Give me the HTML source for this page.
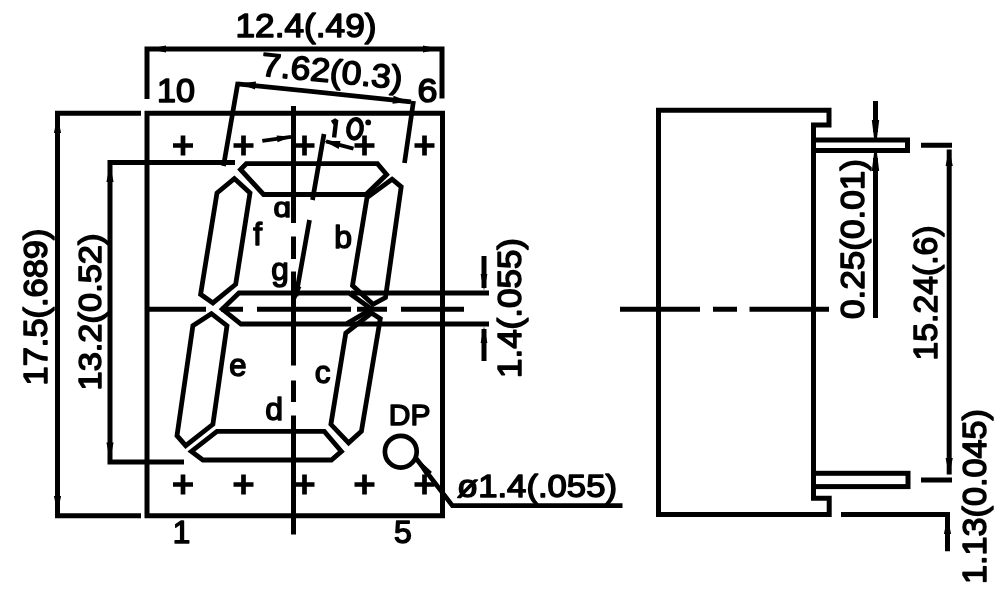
<!DOCTYPE html>
<html>
<head>
<meta charset="utf-8">
<title>7-segment display package dimensions</title>
<style>
  html, body { margin: 0; padding: 0; background: #ffffff; }
  body { width: 1000px; height: 596px; overflow: hidden; }
  svg { display: block; }
  text { font-family: "Liberation Sans", sans-serif; fill: #000; stroke: #000; stroke-width: 1.5px; stroke-linejoin: round; }
  .l5 { stroke: #000; stroke-width: 5; fill: none; stroke-linecap: butt; stroke-linejoin: miter; }
  .l4 { stroke: #000; stroke-width: 4.7; fill: none; stroke-linecap: butt; stroke-linejoin: miter; }
  .seg { stroke: #000; stroke-width: 4.8; fill: none; stroke-linejoin: miter; }
  .ar { fill: #000; stroke: none; }
</style>
</head>
<body>
<svg width="1000" height="596" viewBox="0 0 1000 596">
  <defs>
    <filter id="soft" x="0" y="0" width="1000" height="596" filterUnits="userSpaceOnUse">
      <feGaussianBlur stdDeviation="0.55"/>
    </filter>
  </defs>
  <rect x="0" y="0" width="1000" height="596" fill="#ffffff"/>
  <g filter="url(#soft)">

  <!-- ================= FRONT VIEW ================= -->
  <!-- package outline -->
  <rect class="l5" x="147" y="113.25" width="295.5" height="402.5"/>

  <!-- 12.4 width dimension -->
  <path class="l5" d="M147 46.5V99 M442 46.5V98.5 M147 49H442"/>
  <path class="ar" d="M149 49L166 45.6V52.4Z M440 49L423 45.6V52.4Z"/>

  <!-- 17.5 height dimension -->
  <path class="l5" d="M55 113.25H141 M55 515.75H141 M57.5 113V516"/>
  <path class="ar" d="M57.5 116L53.9 133H61.1Z M57.5 513L53.9 496H61.1Z"/>

  <!-- 13.2 digit height dimension -->
  <path class="l5" d="M107.5 162.5H235 M107.5 462H184 M110 162.5V462"/>
  <path class="ar" d="M110 165L106.4 182H113.6Z M110 459.5L106.4 442.5H113.6Z"/>

  <!-- 7.62 slanted dimension -->
  <path class="l4" d="M238 82L223.5 166 M413.5 101L404.5 163"/>
  <path class="l4" d="M237.2 83.8L411 101.8"/>
  <path class="ar" d="M239 83.4L256 81.5L255 89.5Z M409.5 101.8L392.5 103.8L393.5 95.8Z"/>

  <!-- pin crosses : top row / bottom row -->
  <g class="l4">
    <path d="M173 145.5H193 M183 135.5V155.5"/>
    <path d="M233.5 145.5H253.5 M243.5 135.5V155.5"/>
    <path d="M294.5 145.5H314.5 M304.5 135.5V155.5"/>
    <path d="M354.5 145.5H374.5 M364.5 135.5V155.5"/>
    <path d="M414.5 145.5H434.5 M424.5 135.5V155.5"/>
    <path d="M173 484.5H193 M183 474.5V494.5"/>
    <path d="M233.5 484.5H253.5 M243.5 474.5V494.5"/>
    <path d="M294.5 484.5H314.5 M304.5 474.5V494.5"/>
    <path d="M354.5 484.5H374.5 M364.5 474.5V494.5"/>
    <path d="M414.5 484.5H434.5 M424.5 474.5V494.5"/>
  </g>

  <!-- seven segments -->
  <g class="seg">
    <!-- a -->
    <path d="M246.3 163.7H377.4L386.6 174.5L366 194.5H263.6L240.5 169.5Z"/>
    <!-- f -->
    <path d="M234.3 178.6L250 192.9L235.7 284.3L212.9 302.9L200.6 294.3L217 192.9Z"/>
    <!-- b -->
    <path d="M392 179.2L401.2 186.8L385.5 297.5L373 304.3L352.5 285.5L367 197.5Z"/>
    <!-- g -->
    <path d="M239 293H349L371.5 309L346 324H241L222.3 309Z"/>
    <!-- e -->
    <path d="M211.4 313.7L227 325.7L212.9 424.3L185.7 445.7L177 435.7L192.9 325.7Z"/>
    <!-- c -->
    <path d="M371.5 313L380.3 318.7L361.4 431.4L348.6 442.9L330.9 424.3L345.8 333Z"/>
    <!-- d -->
    <path d="M217 431.4H324.3L341.4 451.4L331.4 460H202.9L191.4 451.4Z"/>
  </g>

  <!-- centre lines -->
  <path class="l5" d="M293.5 106V223 M293.5 236.5V259 M293.5 271.5V365.5 M293.5 380.5V402 M293.5 415.5V534.5"/>
  <path class="l5" d="M147 309.3H206 M221 309.3H243 M257 309.3H351 M357 309.3H387 M401 309.3H464"/>

  <!-- 10 degree slanted reference line -->
  <path class="l4" d="M324 134L312.5 200 M309.5 220L296 296"/>
  <path class="ar" d="M294.5 303L296.3 286L301.3 287Z"/>
  <path class="l4" style="stroke-width:3.8" d="M262.3 140.8L291 136.9 M326 141.4L353.5 148.6"/>
  <path class="ar" d="M292 136.8L276.6 135.4L277.5 142.3Z M324 140.9L340.5 141L338.7 149Z"/>

  <!-- 1.4 segment width dimension -->
  <path class="l5" d="M351 293H489 M347 324H489"/>
  <path class="l5" d="M484 256V288 M484 329V361"/>
  <path class="ar" d="M484 290.5L480.6 274H487.4Z M484 326.5L480.6 343H487.4Z"/>

  <!-- decimal point and leader -->
  <circle class="l4" cx="400.8" cy="451.7" r="15.9"/>
  <path class="l4" d="M415 457L452.4 505.6H622.5"/>
  <path class="ar" d="M413.5 455L432 472L426 477Z"/>

  <!-- ================= SIDE VIEW ================= -->
  <path class="l5" d="M658.5 110.3H829V125H813.5V498.3H829.2V514.5H658.5Z"/>
  <rect class="l5" x="813.5" y="140" width="94" height="10.5"/>
  <rect class="l5" x="813.5" y="473.3" width="94.5" height="13.3"/>
  <path class="l5" d="M620 309.3H700 M713 309.3H737 M749.5 309.3H829"/>

  <!-- 0.25 pin thickness -->
  <path class="l5" d="M875.5 101V132 M875.5 158V318"/>
  <path class="ar" d="M874 138H877L879.2 120H871.8Z M874 153H877L879.2 171H871.8Z"/>

  <!-- 15.24 pin row spacing -->
  <path class="l5" d="M921 145.2H952 M921 480H952 M949.2 149.5V474.5"/>
  <path class="ar" d="M949.2 149L945.6 166H952.8Z M949.2 475L945.6 458H952.8Z"/>

  <!-- 1.13 -->
  <path class="l5" d="M841 514.5H950 M947.5 512V551.3"/>
  <path class="ar" d="M947.5 517L943.9 534H951.1Z"/>

  <!-- ================= TEXT ================= -->
  <text x="235.5" y="36.5" font-size="33" textLength="141" lengthAdjust="spacingAndGlyphs">12.4(.49)</text>
  <text x="0" y="0" font-size="33" textLength="142" lengthAdjust="spacingAndGlyphs" transform="translate(260.3 75.6) rotate(5.5)">7.62(0.3)</text>
  <text x="157" y="102.2" font-size="33" textLength="38" lengthAdjust="spacingAndGlyphs">10</text>
  <text x="417.5" y="102" font-size="33" textLength="20" lengthAdjust="spacingAndGlyphs">6</text>
  <text x="172.8" y="542.8" font-size="31.5">1</text>
  <text x="394" y="542.8" font-size="32">5</text>
  <!-- "10°" hand-drawn (slanted CAD-style glyphs) -->
  <path d="M332 122.6L336.2 120L334.1 137.4" fill="none" stroke="#000" stroke-width="4.4" stroke-linejoin="bevel"/>
  <ellipse cx="355" cy="128.8" rx="6.7" ry="9.7" transform="rotate(9 355 128.8)" fill="none" stroke="#000" stroke-width="4.4"/>
  <circle cx="368.2" cy="122.4" r="2.9" fill="#000"/>

  <text x="273.5" y="217.2" font-size="28.5" textLength="17.5" lengthAdjust="spacingAndGlyphs">&#593;</text>
  <text x="253.3" y="244.5" font-size="31.5">f</text>
  <text x="334.3" y="248" font-size="32">b</text>
  <text x="271.3" y="280" font-size="31.5">g</text>
  <text x="229.3" y="376.3" font-size="31">e</text>
  <text x="314.8" y="382.5" font-size="31.5">c</text>
  <text x="265.3" y="420.3" font-size="32">d</text>
  <text x="388.8" y="425.2" font-size="30">DP</text>

  <text x="457" y="496.7" font-size="32" textLength="160" lengthAdjust="spacingAndGlyphs">&#248;1.4(.055)</text>

  <text font-size="33" textLength="157" lengthAdjust="spacingAndGlyphs" transform="translate(46.8 385.5) rotate(-90)">17.5(.689)</text>
  <text font-size="31.5" textLength="157" lengthAdjust="spacingAndGlyphs" transform="translate(101 390.5) rotate(-90)">13.2(0.52)</text>
  <text font-size="32.5" textLength="140" lengthAdjust="spacingAndGlyphs" transform="translate(521 378) rotate(-90)">1.4(.055)</text>
  <text font-size="34" textLength="160" lengthAdjust="spacingAndGlyphs" transform="translate(864 319) rotate(-90)">0.25(0.01)</text>
  <text font-size="34" textLength="135" lengthAdjust="spacingAndGlyphs" transform="translate(936.7 360.5) rotate(-90)">15.24(.6)</text>
  <text font-size="34" textLength="175" lengthAdjust="spacingAndGlyphs" transform="translate(986 584) rotate(-90)">1.13(0.045)</text>
  </g>
</svg>
</body>
</html>
